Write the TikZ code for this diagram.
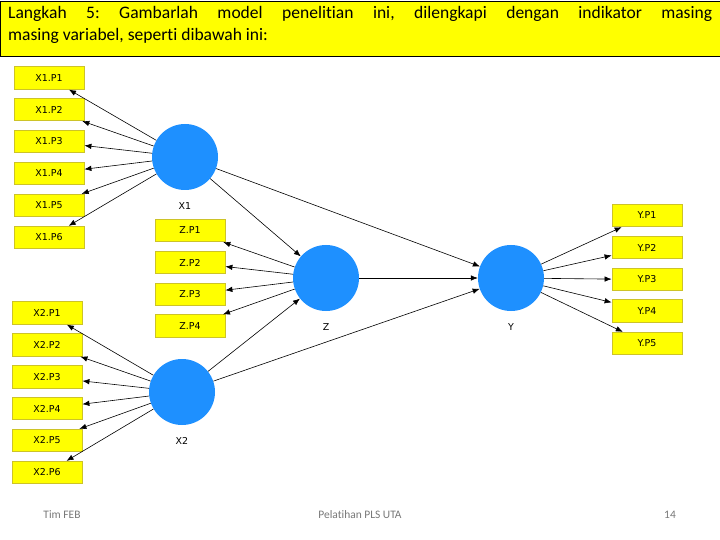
\documentclass[tikz,border=0pt]{standalone}
\usepackage{fontspec}
\setmainfont{DejaVu Sans}
\newfontfamily\titlefont[Ligatures=NoCommon]{Carlito}
\usetikzlibrary{arrows.meta}
\definecolor{boxyellow}{RGB}{255,255,0}
\definecolor{boxedge}{RGB}{205,195,40}
\definecolor{latentblue}{RGB}{30,144,255}
\definecolor{footgray}{RGB}{120,120,120}
\tikzset{
  ind/.style={draw=boxedge, line width=0.8bp, fill=boxyellow, minimum width=70bp, minimum height=22.5bp, inner sep=0pt, font=\fontsize{9.5}{11}\selectfont},
  lat/.style={circle, fill=latentblue, minimum size=66bp, inner sep=0pt},
  latlabel/.style={font=\fontsize{9.5}{11}\selectfont},
  conn/.style={-{Latex[length=7bp,width=5.5bp]}, line width=0.6bp, black},
  foot/.style={font=\titlefont\fontsize{11.5}{13}\selectfont, text=footgray}
}
\begin{document}
\frenchspacing
\begin{tikzpicture}[x=1bp,y=-1bp]
\useasboundingbox (0,0) rectangle (720,540);
\fill[white] (0,0) rectangle (720,540);
% title
\node[draw=black, line width=0.8bp, fill=boxyellow, minimum width=719bp, minimum height=55bp, inner sep=0pt, anchor=north west] (title) at (0.5,1) {};
\node[anchor=north west, inner sep=0pt, text width=704bp, align=justify, font=\titlefont\fontsize{17.6}{22}\selectfont] (titletext) at (8,6)
 {Langkah 5: Gambarlah model penelitian ini, dilengkapi dengan indikator masing\linebreak masing variabel, seperti dibawah ini:};
% latents
\node[lat] (X1) at (185,157) {};
\node[lat] (Z) at (326,278) {};
\node[lat] (Y) at (511,278) {};
\node[lat] (X2) at (182,392) {};
\node[latlabel] (lx1) at (185,206) {X1};
\node[latlabel] (lz) at (326,327) {Z};
\node[latlabel] (ly) at (511,327) {Y};
\node[latlabel] (lx2) at (182,441) {X2};
% X1 indicators
\node[ind] (x1p1) at (49,78) {X1.P1};
\node[ind] (x1p2) at (49,109.5) {X1.P2};
\node[ind] (x1p3) at (49,141.5) {X1.P3};
\node[ind] (x1p4) at (49,173.5) {X1.P4};
\node[ind] (x1p5) at (49,205.5) {X1.P5};
\node[ind] (x1p6) at (49,237.5) {X1.P6};
% Z indicators
\node[ind] (zp1) at (190,230.5) {Z.P1};
\node[ind] (zp2) at (190,262.5) {Z.P2};
\node[ind] (zp3) at (190,294.5) {Z.P3};
\node[ind] (zp4) at (190,326) {Z.P4};
% X2 indicators
\node[ind] (x2p1) at (47,313) {X2.P1};
\node[ind] (x2p2) at (47,345) {X2.P2};
\node[ind] (x2p3) at (47,377) {X2.P3};
\node[ind] (x2p4) at (47,408.5) {X2.P4};
\node[ind] (x2p5) at (47,440.5) {X2.P5};
\node[ind] (x2p6) at (47,472.5) {X2.P6};
% Y indicators
\node[ind] (yp1) at (647,215.5) {Y.P1};
\node[ind] (yp2) at (647,247.5) {Y.P2};
\node[ind] (yp3) at (647,279.5) {Y.P3};
\node[ind] (yp4) at (647,311) {Y.P4};
\node[ind] (yp5) at (647,343.5) {Y.P5};
% connectors
\foreach \t in {x1p1,x1p2,x1p3,x1p4,x1p5,x1p6} \draw[conn] (X1) -- (\t);
\foreach \t in {zp1,zp2,zp3,zp4} \draw[conn] (Z) -- (\t);
\foreach \t in {x2p1,x2p2,x2p3,x2p4,x2p5,x2p6} \draw[conn] (X2) -- (\t);
\foreach \t in {yp1,yp2,yp3,yp4,yp5} \draw[conn] (Y) -- (\t);
\draw[conn] (X1) -- (Z);
\draw[conn] (X2) -- (Z);
\draw[conn] (X1) -- (Y);
\draw[conn] (Z) -- (Y);
\draw[conn] (X2) -- (Y);
% footer
\node[foot] (f1) at (62,515) {Tim FEB};
\node[foot] (f2) at (360,515) {Pelatihan PLS UTA};
\node[foot] (f3) at (670,515) {14};
\end{tikzpicture}
\end{document}
